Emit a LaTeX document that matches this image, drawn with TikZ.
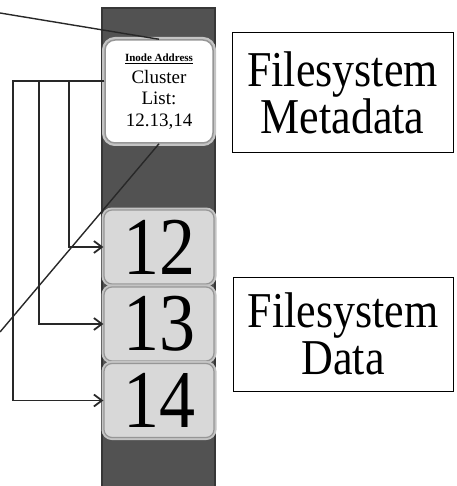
\documentclass[tikz,border=0pt]{standalone}
\usepackage{fontspec}
\setmainfont{Liberation Serif}
\usepackage{graphicx}
\usetikzlibrary{arrows.meta,positioning,calc}
\definecolor{volgrey}{RGB}{82,82,82}
\definecolor{voledge}{RGB}{55,55,55}
\definecolor{cellfill}{RGB}{216,216,216}
\definecolor{cellrim}{RGB}{150,150,150}
\definecolor{cellhalo}{RGB}{196,196,196}
\definecolor{wire}{RGB}{40,40,40}
\newcommand{\tallbox}[1]{\scalebox{1}[1.14]{#1}}

\begin{document}
\begin{tikzpicture}[x=1pt,y=-1pt,
    ptr/.style={wire, line width=1.8pt, -{Straight Barb[length=8pt,width=12pt]}},
    link/.style={wire, line width=1.4pt},
    cell/.style={rounded corners=8pt, fill=cellfill, draw=cellrim, line width=1.2pt,
        preaction={draw=cellhalo, line width=5pt},
        minimum width=110pt, minimum height=74pt, inner sep=0pt,
        font=\fontsize{72}{72}\selectfont},
    inode/.style={rounded corners=10pt, fill=white, draw=cellrim, line width=1.5pt,
        preaction={draw=cellhalo, line width=6pt},
        minimum width=108pt, minimum height=103pt, align=center, inner sep=0pt,
        font=\fontsize{19}{21.5}\selectfont},
    tag/.style={draw, line width=1pt, align=center, inner sep=0pt,
        font=\fontsize{44}{47}\selectfont}
]
\useasboundingbox (0,0) rectangle (456,486);

% the volume strip
\fill[volgrey] (101,7) rectangle (216,486);
\draw[voledge, line width=2pt] (102,486) -- (102,8) -- (215,8) -- (215,486);

% pointers coming in from the left
\coordinate (inoderef) at (0,13);
\coordinate (blockref) at (0,332);

% inode block and the three data clusters
\node[inode] (meta) at (159,91.5)
    {{\fontsize{11}{12}\selectfont\bfseries\underline{Inode Address}}\\
     Cluster\\ List:\\ 12.13,14};
\node[cell] (c12) at (159,247) {\tallbox{12}};
\node[cell] (c13) at (159,324) {\tallbox{13}};
\node[cell] (c14) at (159,400.5) {\tallbox{14}};

\draw[link] (inoderef) -- (meta.north);
\draw[link] (blockref) -- (meta.south);

% cluster list fans out to the blocks
\coordinate (tap) at ([yshift=10.5pt]meta.west);
\draw[ptr] (tap) -- ++(-35,0) |- (c12.west);
\draw[ptr] (tap) -- ++(-65,0) |- (c13.west);
\draw[ptr] (tap) -- ++(-91,0) |- (c14.west);

% region labels
\node[tag, minimum width=221pt, minimum height=120pt] (metatag) at (342.5,93)
    {\tallbox{Filesystem}\\ \tallbox{Metadata}};
\node[tag, minimum width=220pt, minimum height=114pt] (datatag) at (343,334)
    {\tallbox{Filesystem}\\ \tallbox{Data}};
\end{tikzpicture}
\end{document}
